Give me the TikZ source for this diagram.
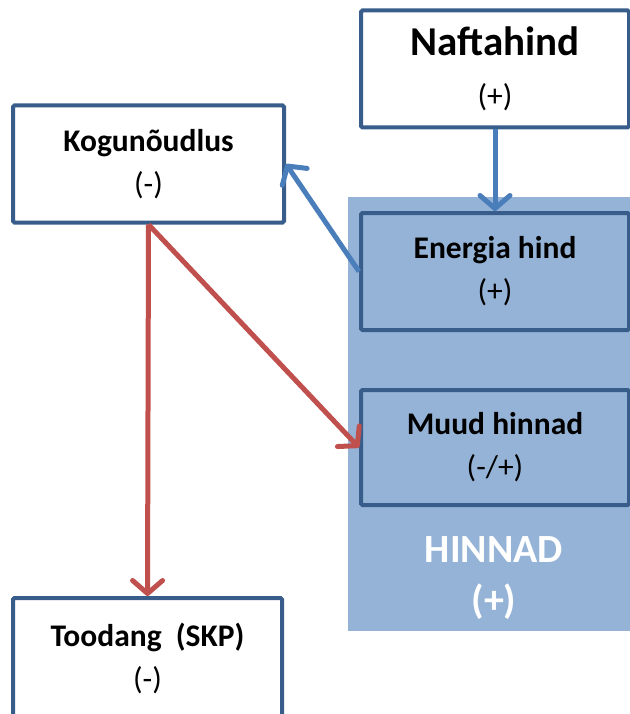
\documentclass[tikz,border=0pt]{standalone}
\usepackage{fontspec}
\setmainfont{Carlito}
\usetikzlibrary{arrows.meta}
\definecolor{boxline}{RGB}{56,93,138}
\definecolor{hinnadbg}{RGB}{149,179,215}
\definecolor{arrowblue}{RGB}{74,126,187}
\definecolor{arrowred}{RGB}{192,80,77}
\begin{document}
\begin{tikzpicture}[x=1pt, y=-1pt,
  kast/.style={draw=boxline, line width=4pt, rounded corners=1.5pt, align=center,
    minimum width=268pt, minimum height=117pt, font=\fontsize{31.5}{43}\selectfont},
  bluearrow/.style={-{Straight Barb[length=13pt,width=30pt,round]}, line width=5pt, arrowblue},
  redarrow/.style={-{Straight Barb[length=13pt,width=30pt,round]}, line width=5pt, arrowred}]
\useasboundingbox (0,0) rectangle (629,714);

\fill[hinnadbg] (348,197) rectangle (640,631);
\node[text=white, align=center, font=\fontsize{40}{51}\selectfont\bfseries] (hinnad) at (494,578) {HINNAD\\(+)};

\node[kast, fill=white] (nafta) at (495,69) {{\fontsize{41}{44}\selectfont\textbf{Naftahind}}\\[8pt](+)};
\node[kast, fill=white, minimum width=271pt] (kogu) at (148.5,164) {\textbf{Kogunõudlus}\\(-)};
\node[kast, fill=hinnadbg] (energia) at (495,271.5) {\textbf{Energia hind}\\(+)};
\node[kast, fill=hinnadbg, minimum height=115pt] (muud) at (495,447.5) {\textbf{Muud hinnad}\\(-/+)};
\node[kast, fill=white, minimum width=269pt, minimum height=120pt] (toodang) at (147.5,658) {\textbf{Toodang\ \ (SKP)}\\(-)};

\draw[bluearrow] (nafta.south) -- (energia.north);
\draw[bluearrow] (energia.west) -- (kogu.east);
\draw[redarrow] (kogu.south) -- (toodang.north);
\draw[redarrow] (kogu.south) -- (muud.west);

\end{tikzpicture}
\end{document}
